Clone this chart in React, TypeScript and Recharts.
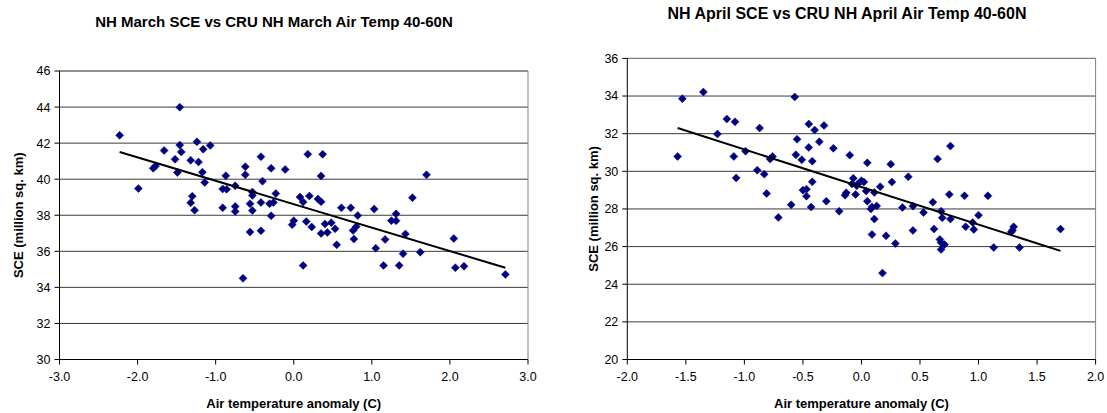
import React from 'react';
import {
  ScatterChart,
  Scatter,
  XAxis,
  YAxis,
  CartesianGrid,
  ReferenceLine,
} from 'recharts';

// ---------- March chart data ----------
const marchTemp: number[] = [
  -2.23, -1.99, -1.66, -1.8, -1.77, -1.46, -1.44, -1.52, -1.49, -1.24,
  -1.16, -1.07, -1.32, -1.22, -1.17, -1.14, -1.3, -1.32, -1.27, -0.87,
  -0.91, -0.86, -0.75, -0.91, -0.75, -0.75, -0.62, -0.62, -0.42, -0.4,
  -0.53, -0.53, -0.56, -0.53, -0.42, -0.56, -0.42, -0.29, -0.23, -0.31,
  -0.26, -0.29, -0.11, -1.46, -0.65, 0.18, 0.37, 0.35, 1.7, 0.08,
  0.12, 0.2, 0.31, 0.35, 0.61, 0.73, 0.82, 1.03, 1.52, 0.0,
  -0.02, 0.16, 0.23, 0.35, 0.4, 0.43, 0.48, 0.53, 0.55, 0.76,
  0.8, 0.77, 1.25, 1.31, 1.31, 1.43, 1.05, 1.17, 1.4, 1.62,
  1.15, 1.35, 2.05, 2.07, 2.18, 2.71, 0.12,
];
const marchSce: number[] = [
  42.43, 39.48, 41.59, 40.6, 40.73, 41.89, 41.51, 41.1, 40.37, 42.07,
  41.66, 41.87, 41.05, 40.95, 40.39, 39.82, 39.05, 38.69, 38.28, 40.19,
  39.46, 39.44, 39.63, 38.41, 38.49, 38.21, 40.69, 40.24, 41.25, 39.89,
  39.29, 39.1, 38.64, 38.26, 38.71, 37.07, 37.14, 40.6, 39.2, 38.64,
  38.71, 37.97, 40.54, 43.99, 34.5, 41.38, 41.38, 40.18, 40.24, 39.01,
  38.73, 39.07, 38.9, 38.75, 38.41, 38.41, 37.98, 38.34, 38.97, 37.7,
  37.48, 37.65, 37.35, 36.99, 37.52, 37.05, 37.59, 37.25, 36.36, 37.16,
  37.37, 36.68, 37.7, 38.08, 37.7, 36.96, 36.17, 36.66, 35.87, 35.95,
  35.22, 35.22, 36.71, 35.09, 35.17, 34.72, 35.22,
];
const marchTrendTemp: number[] = [-2.23, 2.71];
const marchTrendSce: number[] = [41.51, 35.09];
const marchXTicks: number[] = [-3, -2, -1, 0, 1, 2, 3];
const marchYTicks: number[] = [30, 32, 34, 36, 38, 40, 42, 44, 46];

// ---------- April chart data ----------
const aprilTemp: number[] = [
  -1.53, -1.35, -1.57, -1.15, -1.08, -1.23, -1.09, -1.07, -0.99, -0.87,
  -0.89, -0.83, -0.78, -0.76, -0.81, -0.71, -0.6, -0.57, -0.55, -0.56,
  -0.51, -0.45, -0.4, -0.32, -0.36, -0.45, -0.42, -0.42, -0.5, -0.47,
  -0.47, -0.43, -0.3, -0.24, -0.19, -0.1, -0.14, -0.13, -0.05, 0.04,
  0.05, 0.05, 0.25, 0.65, -0.07, 0.0, 0.02, -0.03, -0.08, -0.04,
  0.11, 0.16, 0.26, 0.4, 0.08, 0.09, 0.13, 0.11, 0.09, 0.21,
  0.29, 0.18, 0.35, 0.44, 0.53, 0.61, 0.68, 0.69, 0.75, 0.76,
  0.88, 1.08, 1.0, 0.95, 0.89, 0.96, 0.44, 0.62, 0.67, 0.68,
  0.71, 0.68, 1.13, 1.35, 1.3, 1.29, 1.28, 1.7, 0.76,
];
const aprilSce: number[] = [
  33.86, 34.21, 30.79, 32.78, 32.63, 31.98, 30.79, 29.65, 31.07, 32.3,
  30.06, 29.85, 30.65, 30.79, 28.82, 27.55, 28.22, 33.95, 31.7, 30.88,
  30.61, 32.51, 32.19, 32.44, 31.57, 31.27, 30.54, 29.44, 29.0, 29.05,
  28.68, 28.1, 28.41, 31.22, 27.88, 30.86, 28.73, 28.86, 28.77, 28.95,
  30.45, 28.41, 30.38, 30.66, 29.63, 29.5, 29.43, 29.34, 29.33, 29.23,
  28.88, 29.18, 29.43, 29.71, 28.0, 28.11, 28.16, 27.46, 26.64, 26.57,
  26.16, 24.59, 28.08, 28.15, 27.81, 28.36, 27.88, 27.53, 28.77, 27.46,
  28.7, 28.7, 27.67, 27.28, 27.05, 26.91, 26.86, 26.93, 26.38, 26.22,
  26.11, 25.85, 25.95, 25.95, 27.05, 26.87, 26.78, 26.93, 31.34,
];
const aprilTrendTemp: number[] = [-1.57, 1.7];
const aprilTrendSce: number[] = [32.3, 25.77];
const aprilXTicks: number[] = [-2, -1.5, -1, -0.5, 0, 0.5, 1, 1.5, 2];
const aprilYTicks: number[] = [20, 22, 24, 26, 28, 30, 32, 34, 36];

const FONT = '"Liberation Sans", Arial, Helvetica, sans-serif';
const MARKER = '#000080';
const TICK_FONT = 12.5;
const AXIS_TITLE_FONT = 13;

const zip = (xs: number[], ys: number[]) => xs.map((x, i) => ({ x, y: ys[i] }));

const Diamond = (props: any) => {
  const { cx, cy } = props;
  if (cx == null || cy == null) return <g />;
  const r = 4;
  return (
    <polygon
      points={`${cx},${cy - r} ${cx + r},${cy} ${cx},${cy + r} ${cx - r},${cy}`}
      fill={MARKER}
      stroke={MARKER}
      strokeWidth={0.5}
    />
  );
};

const NoShape = () => <g />;

interface PanelProps {
  title: string;
  titleTop: number;
  titleCenter: number;
  titleFont: number;
  width: number;
  left: number;
  marginTop: number;
  marginRight: number;
  yAxisWidth: number;
  xAxisHeight: number;
  temps: number[];
  sces: number[];
  trendT: number[];
  trendS: number[];
  xTicks: number[];
  yTicks: number[];
  yTitleX: number;
}

const Panel = (p: PanelProps) => {
  const points = zip(p.temps, p.sces);
  const trend = zip(p.trendT, p.trendS);
  const xDom: [number, number] = [p.xTicks[0], p.xTicks[p.xTicks.length - 1]];
  const yDom: [number, number] = [p.yTicks[0], p.yTicks[p.yTicks.length - 1]];
  const H = 413;
  const plotTop = p.marginTop;
  const plotBottom = H - p.xAxisHeight;
  const yMid = (plotTop + plotBottom) / 2;
  return (
    <div style={{ position: 'absolute', left: p.left, top: 0, width: p.width, height: H }}>
      <div
        style={{
          position: 'absolute',
          top: p.titleTop,
          left: p.titleCenter - 300,
          width: 600,
          textAlign: 'center',
          fontFamily: FONT,
          fontWeight: 'bold',
          fontSize: p.titleFont,
          lineHeight: '18px',
          color: '#000',
          whiteSpace: 'nowrap',
        }}
      >
        {p.title}
      </div>
      <ScatterChart
        width={p.width}
        height={H}
        margin={{ top: p.marginTop, right: p.marginRight, left: 0, bottom: 0 }}
        style={{ position: 'absolute', left: 0, top: 0 }}
      >
        <CartesianGrid horizontal vertical={false} stroke="#3a3a3a" strokeWidth={1} />
        <XAxis
          type="number"
          dataKey="x"
          domain={xDom}
          ticks={p.xTicks}
          allowDataOverflow
          height={p.xAxisHeight}
          tickFormatter={(v: number) => v.toFixed(1)}
          tick={{ fill: '#000', fontSize: TICK_FONT, fontFamily: FONT }}
          tickLine={{ stroke: '#000' }}
          axisLine={{ stroke: '#000' }}
          tickSize={5}
          tickMargin={8}
          label={{
            value: 'Air temperature anomaly (C)',
            position: 'insideBottom',
            offset: 5,
            fill: '#000',
            fontSize: AXIS_TITLE_FONT,
            fontWeight: 'bold',
            fontFamily: FONT,
          }}
        />
        <YAxis
          type="number"
          dataKey="y"
          domain={yDom}
          ticks={p.yTicks}
          allowDataOverflow
          width={p.yAxisWidth}
          tick={{ fill: '#000', fontSize: TICK_FONT, fontFamily: FONT }}
          tickLine={{ stroke: '#000' }}
          axisLine={{ stroke: '#000' }}
          tickSize={5}
          tickMargin={4}
          label={{
            content: () => (
              <text
                x={p.yTitleX}
                y={yMid}
                transform={`rotate(-90, ${p.yTitleX}, ${yMid})`}
                textAnchor="middle"
                dominantBaseline="central"
                fill="#000"
                fontSize={AXIS_TITLE_FONT}
                fontWeight="bold"
                fontFamily={FONT}
              >
                SCE (million sq. km)
              </text>
            ),
          }}
        />
        <ReferenceLine x={xDom[1]} stroke="#808080" strokeWidth={1} />
        <ReferenceLine y={yDom[1]} stroke="#808080" strokeWidth={1} />
        <Scatter data={points} shape={<Diamond />} isAnimationActive={false} />
        <Scatter
          data={trend}
          shape={<NoShape />}
          line={{ stroke: '#000', strokeWidth: 2 }}
          lineType="joint"
          isAnimationActive={false}
        />
      </ScatterChart>
    </div>
  );
}

export default function App() {
  return (
    <div
      style={{
        position: 'absolute',
        left: 0,
        top: 0,
        width: 1107,
        height: 413,
        background: '#fff',
        overflow: 'hidden',
      }}
    >
      <Panel
        title="NH March SCE vs CRU NH March Air Temp 40-60N"
        titleTop={13}
        titleCenter={274}
        titleFont={15}
        width={560}
        left={0}
        marginTop={71}
        marginRight={32}
        yAxisWidth={59.5}
        xAxisHeight={53.5}
        temps={marchTemp}
        sces={marchSce}
        trendT={marchTrendTemp}
        trendS={marchTrendSce}
        xTicks={marchXTicks}
        yTicks={marchYTicks}
        yTitleX={18}
      />
      <Panel
        title="NH April SCE vs CRU NH April Air Temp 40-60N"
        titleTop={5}
        titleCenter={287}
        titleFont={16}
        width={547}
        left={560}
        marginTop={58.4}
        marginRight={11.4}
        yAxisWidth={67.3}
        xAxisHeight={53.5}
        temps={aprilTemp}
        sces={aprilSce}
        trendT={aprilTrendTemp}
        trendS={aprilTrendSce}
        xTicks={aprilXTicks}
        yTicks={aprilYTicks}
        yTitleX={34}
      />
    </div>
  );
}
